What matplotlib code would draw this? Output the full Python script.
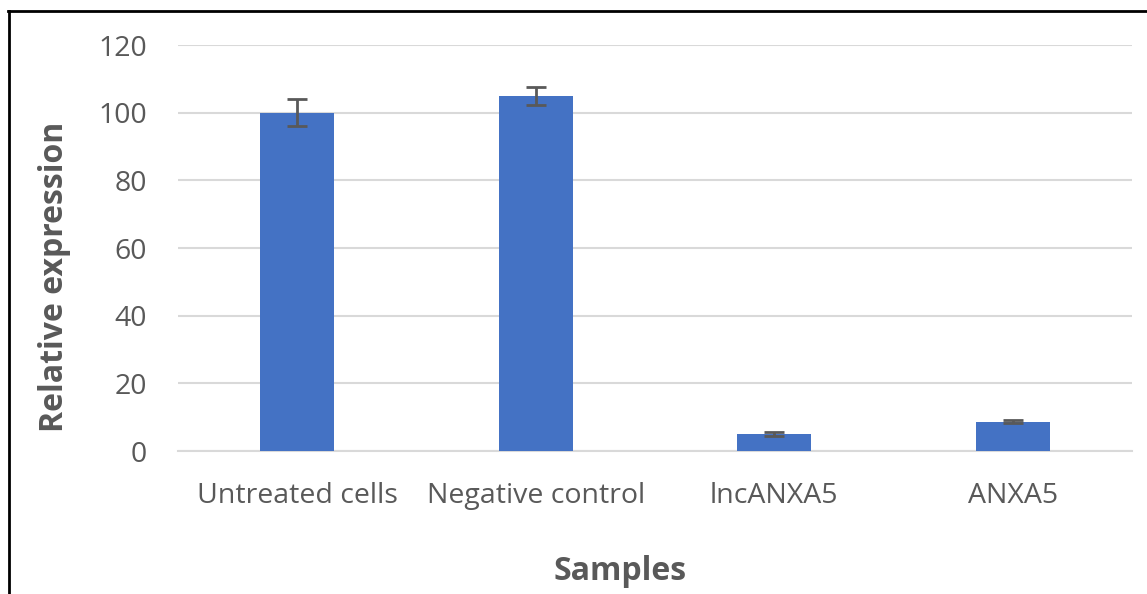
import matplotlib
matplotlib.use("Agg")
import matplotlib.pyplot as plt
from matplotlib.lines import Line2D

samples = ["Untreated cells", "Negative control", "lncANXA5", "ANXA5"]
expression = [100, 105, 5, 8.7]
errors = [4, 2.6, 0.5, 0.4]
y_ticks = [0, 20, 40, 60, 80, 100, 120]

plt.rcParams["font.family"] = ["Open Sans", "DejaVu Sans"]
text_grey = "#595959"

fig = plt.figure(figsize=(11.47, 5.94), dpi=100)
ax = fig.add_axes([0.155, 0.2407, 0.832, 0.6835])

x = range(len(samples))
ax.bar(x, expression, width=0.31, color="#4472c4", zorder=3,
       yerr=errors, error_kw=dict(ecolor=text_grey, elinewidth=2, capsize=7, capthick=2, zorder=4))

ax.set_xlim(-0.5, len(samples) - 0.5)
ax.set_ylim(0, 120)
ax.set_yticks(y_ticks)
ax.set_xticks(list(x))
ax.set_xticklabels(samples)
ax.grid(axis="y", color="#d9d9d9", linewidth=1.5, zorder=0)
ax.tick_params(axis="both", length=0, labelsize=20.5, colors=text_grey)
ax.tick_params(axis="x", pad=22)
ax.tick_params(axis="y", pad=22)
for side in ["top", "right", "left"]:
    ax.spines[side].set_visible(False)
ax.spines["bottom"].set_color("#d9d9d9")
ax.spines["bottom"].set_linewidth(1.5)

ax.set_ylabel("Relative expression", fontsize=23, fontweight="bold", color=text_grey)
ax.yaxis.set_label_coords(-0.112, 0.43)
ax.set_xlabel("Samples", fontsize=23, fontweight="bold", color=text_grey)
ax.xaxis.set_label_coords(0.463, -0.255)

# outer frame on the left and top edges
fig.add_artist(Line2D([0.0078, 0.0078], [0.0, 0.981], transform=fig.transFigure, color="black", linewidth=2))
fig.add_artist(Line2D([0.0070, 1.0], [0.981, 0.981], transform=fig.transFigure, color="black", linewidth=2))

fig.savefig("out.png", dpi=100, facecolor="white")
